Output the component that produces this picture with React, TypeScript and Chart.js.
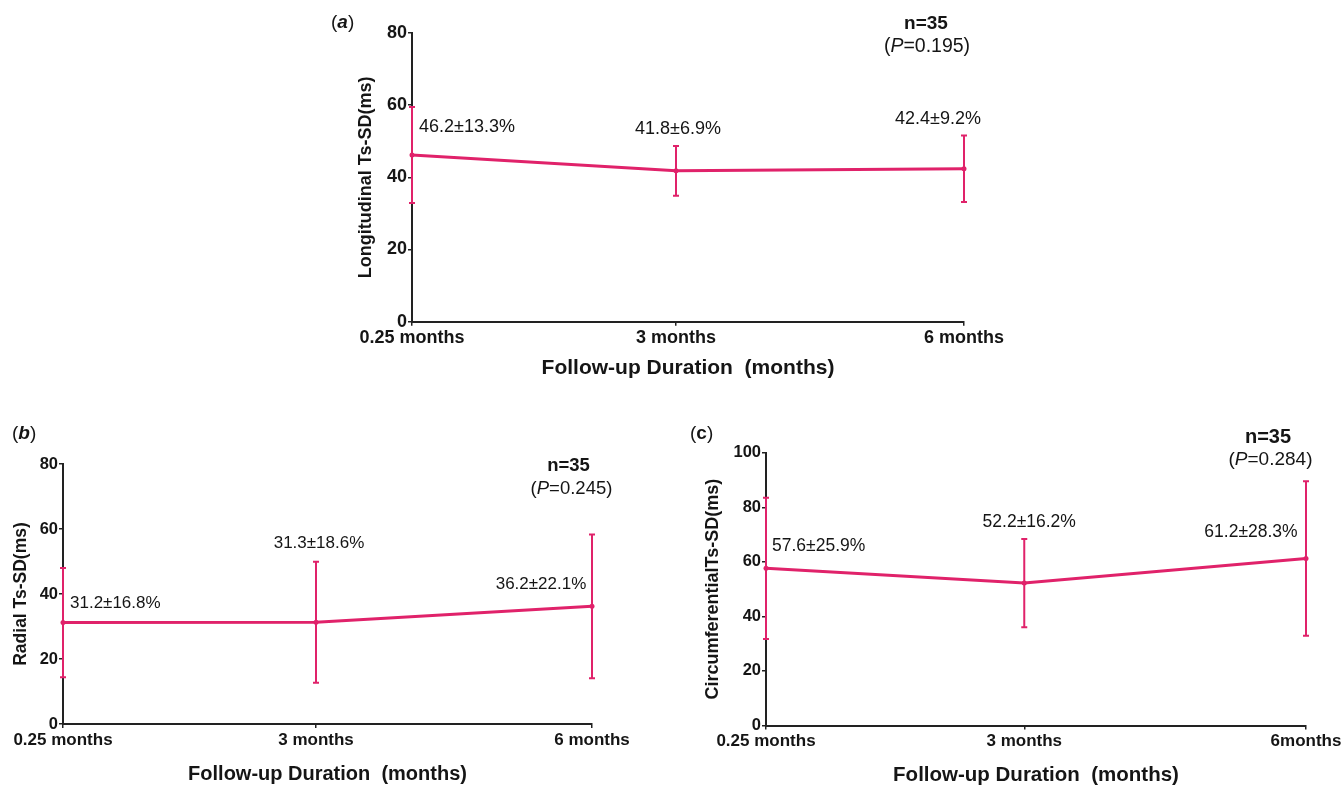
import React, { useEffect, useRef } from "react";
import { Chart, registerables } from "chart.js";

Chart.register(...registerables);

// ---------------- data ----------------
const xValues = [0.25, 3, 6];
const tickLabelsA = ["0.25 months", "3 months", "6 months"];
const tickLabelsB = ["0.25 months", "3 months", "6 months"];
const tickLabelsC = ["0.25 months", "3 months", "6months"];

const meanA = [46.2, 41.8, 42.4];
const sdA = [13.3, 6.9, 9.2];
const meanB = [31.2, 31.3, 36.2];
const sdB = [16.8, 18.6, 22.1];
const meanC = [57.6, 52.2, 61.2];
const sdC = [25.9, 16.2, 28.3];

const nA = 35;
const nB = 35;
const nC = 35;
const pA = "0.195";
const pB = "0.245";
const pC = "0.284";

const yTitleA = "Longitudinal Ts-SD(ms)";
const yTitleB = "Radial Ts-SD(ms)";
const yTitleC = "CircumferentialTs-SD(ms)";
const xTitle = "Follow-up Duration  (months)";

// ---------------- style ----------------
const W = 1341;
const H = 786;
const PINK = "#e0226a";
const INK = "#151515";
const AXIS = "#222222";
const FF = "'Liberation Sans', Arial, Helvetica, sans-serif";

type Off = { dx: number; dy: number; align: CanvasTextAlign };

interface PanelCfg {
  letter: string;
  letterItalic: boolean;
  mean: number[];
  sd: number[];
  ticks: string[];
  n: number;
  p: string;
  yTitle: string;
  yMax: number;
  plot: { left: number; right: number; top: number; bottom: number };
  yW: number;
  xH: number;
  yTitleX: number;
  yTitleSize: number;
  xTitleY: number;
  xTitleSize: number;
  tickXSize: number;
  tickYSize: number;
  valSize: number;
  nSize: number;
  pSize: number;
  letterSize: number;
  valOff: Off[];
  letterPos: { dx: number; dy: number };
  nPos: { dx: number; dy: number };
  pPos: { dx: number; dy: number };
}

const panels: PanelCfg[] = [
  {
    letter: "a",
    letterItalic: true,
    mean: meanA,
    sd: sdA,
    ticks: tickLabelsA,
    n: nA,
    p: pA,
    yTitle: yTitleA,
    yMax: 80,
    plot: { left: 412, right: 964, top: 33, bottom: 321.7 },
    yW: 60,
    xH: 60,
    yTitleX: 366,
    yTitleSize: 18,
    xTitleY: 368,
    xTitleSize: 21,
    tickXSize: 18,
    tickYSize: 18,
    valSize: 18,
    nSize: 19,
    pSize: 19.5,
    letterSize: 19,
    valOff: [
      { dx: 7, dy: -29, align: "left" },
      { dx: 2, dy: -43, align: "center" },
      { dx: -26, dy: -51, align: "center" },
    ],
    letterPos: { dx: -81, dy: -10 },
    nPos: { dx: -38, dy: -10.5 },
    pPos: { dx: -37, dy: 12.7 },
  },
  {
    letter: "b",
    letterItalic: true,
    mean: meanB,
    sd: sdB,
    ticks: tickLabelsB,
    n: nB,
    p: pB,
    yTitle: yTitleB,
    yMax: 80,
    plot: { left: 63, right: 592, top: 464, bottom: 724 },
    yW: 60,
    xH: 60,
    yTitleX: 21,
    yTitleSize: 17.5,
    xTitleY: 774,
    xTitleSize: 20,
    tickXSize: 17,
    tickYSize: 16.5,
    valSize: 17,
    nSize: 18.5,
    pSize: 18.5,
    letterSize: 19,
    valOff: [
      { dx: 7, dy: -20, align: "left" },
      { dx: 3, dy: -80, align: "center" },
      { dx: -51, dy: -23, align: "center" },
    ],
    letterPos: { dx: -51, dy: -30 },
    nPos: { dx: -23.5, dy: 1 },
    pPos: { dx: -20.5, dy: 24 },
  },
  {
    letter: "c",
    letterItalic: false,
    mean: meanC,
    sd: sdC,
    ticks: tickLabelsC,
    n: nC,
    p: pC,
    yTitle: yTitleC,
    yMax: 100,
    plot: { left: 766, right: 1306, top: 452.7, bottom: 725.5 },
    yW: 70,
    xH: 60,
    yTitleX: 713,
    yTitleSize: 18,
    xTitleY: 775,
    xTitleSize: 20.5,
    tickXSize: 17,
    tickYSize: 16.5,
    valSize: 17.5,
    nSize: 20,
    pSize: 19,
    letterSize: 19,
    valOff: [
      { dx: 6, dy: -23.4, align: "left" },
      { dx: 5, dy: -61.6, align: "center" },
      { dx: -55, dy: -27.5, align: "center" },
    ],
    letterPos: { dx: -76, dy: -18.7 },
    nPos: { dx: -38, dy: -16.2 },
    pPos: { dx: -35.5, dy: 6.3 },
  },
];

type Run = { text: string; font: string };

function drawRuns(
  ctx: CanvasRenderingContext2D,
  runs: Run[],
  x: number,
  y: number,
  align: "left" | "center"
) {
  let total = 0;
  const widths = runs.map((r) => {
    ctx.font = r.font;
    const w = ctx.measureText(r.text).width;
    total += w;
    return w;
  });
  let cx = align === "center" ? x - total / 2 : x;
  ctx.textAlign = "left";
  ctx.textBaseline = "middle";
  runs.forEach((r, i) => {
    ctx.font = r.font;
    ctx.fillText(r.text, cx, y);
    cx += widths[i];
  });
}

const annotPlugin = {
  id: "annot",
  afterDatasetsDraw(chart: any, _args: any, opts: any) {
    const cfg: PanelCfg = opts.cfg;
    if (!cfg) return;
    const ctx: CanvasRenderingContext2D = chart.ctx;
    const xs = chart.scales.x;
    const ys = chart.scales.y;
    const area = chart.chartArea;
    ctx.save();
    // error bars
    ctx.strokeStyle = PINK;
    ctx.lineWidth = 2;
    xValues.forEach((xv, i) => {
      const px = xs.getPixelForValue(xv);
      const top = ys.getPixelForValue(cfg.mean[i] + cfg.sd[i]);
      const bot = ys.getPixelForValue(cfg.mean[i] - cfg.sd[i]);
      ctx.beginPath();
      ctx.moveTo(px, top);
      ctx.lineTo(px, bot);
      ctx.moveTo(px - 3, top);
      ctx.lineTo(px + 3, top);
      ctx.moveTo(px - 3, bot);
      ctx.lineTo(px + 3, bot);
      ctx.stroke();
    });
    // value labels
    ctx.fillStyle = INK;
    xValues.forEach((xv, i) => {
      const px = xs.getPixelForValue(xv);
      const py = ys.getPixelForValue(cfg.mean[i]);
      const o = cfg.valOff[i];
      const text = `${cfg.mean[i].toFixed(1)}±${cfg.sd[i].toFixed(1)}%`;
      ctx.font = `${cfg.valSize}px ${FF}`;
      ctx.textAlign = o.align;
      ctx.textBaseline = "middle";
      ctx.fillText(text, px + o.dx, py + o.dy + 1);
    });
    // n and P
    drawRuns(
      ctx,
      [{ text: `n=${cfg.n}`, font: `bold ${cfg.nSize}px ${FF}` }],
      area.right + cfg.nPos.dx,
      area.top + cfg.nPos.dy + 1,
      "center"
    );
    const reg = `${cfg.pSize}px ${FF}`;
    drawRuns(
      ctx,
      [
        { text: "(", font: reg },
        { text: "P", font: `italic ${cfg.pSize}px ${FF}` },
        { text: `=${cfg.p})`, font: reg },
      ],
      area.right + cfg.pPos.dx,
      area.top + cfg.pPos.dy + 1,
      "center"
    );
    // panel letter
    const lreg = `${cfg.letterSize}px ${FF}`;
    drawRuns(
      ctx,
      [
        { text: "(", font: lreg },
        {
          text: cfg.letter,
          font: `${cfg.letterItalic ? "italic " : ""}bold ${cfg.letterSize}px ${FF}`,
        },
        { text: ")", font: lreg },
      ],
      area.left + cfg.letterPos.dx,
      area.top + cfg.letterPos.dy,
      "left"
    );
    ctx.restore();
  },
};

function buildChart(canvas: HTMLCanvasElement, cfg: PanelCfg) {
  const { plot } = cfg;
  const yTitlePad = cfg.yTitleX - (plot.left - cfg.yW) - cfg.yTitleSize / 2;
  const xTitlePad = plot.bottom + cfg.xH - cfg.xTitleY - cfg.xTitleSize / 2;
  const gridCommon = {
    display: true,
    drawOnChartArea: false,
    drawTicks: true,
    tickLength: 4,
    color: AXIS,
    lineWidth: 1.5,
    tickWidth: 1.5,
  };
  return new Chart(canvas, {
    type: "line",
    data: {
      datasets: [
        {
          data: xValues.map((x, i) => ({ x, y: cfg.mean[i] })),
          borderColor: PINK,
          backgroundColor: PINK,
          borderWidth: 3,
          pointRadius: 2.5,
          pointBackgroundColor: PINK,
          pointBorderColor: PINK,
          pointBorderWidth: 0,
          tension: 0,
          clip: false as any,
        },
      ],
    },
    options: {
      responsive: false,
      maintainAspectRatio: false,
      animation: false,
      events: [],
      layout: {
        padding: {
          left: plot.left - cfg.yW,
          top: plot.top,
          right: W - plot.right,
          bottom: H - plot.bottom - cfg.xH,
        },
      },
      plugins: {
        legend: { display: false },
        tooltip: { enabled: false },
        title: { display: false },
        annot: { cfg },
      } as any,
      scales: {
        x: {
          type: "linear",
          min: 0.25,
          max: 6,
          afterBuildTicks: (s: any) => {
            s.ticks = xValues.map((v) => ({ value: v }));
          },
          afterFit: (s: any) => {
            s.height = cfg.xH;
            s.paddingLeft = 0;
            s.paddingRight = 0;
          },
          ticks: {
            autoSkip: false,
            maxRotation: 0,
            minRotation: 0,
            padding: 2,
            color: INK,
            font: { family: FF, size: cfg.tickXSize, weight: "bold" },
            callback: (v: any) => {
              const i = xValues.indexOf(Number(v));
              return i >= 0 ? cfg.ticks[i] : "";
            },
          },
          grid: gridCommon,
          border: { display: true, color: AXIS, width: 2 },
          title: {
            display: true,
            text: xTitle,
            color: INK,
            font: { family: FF, size: cfg.xTitleSize, weight: "bold", lineHeight: 1 },
            padding: { top: 0, bottom: xTitlePad },
          },
        },
        y: {
          type: "linear",
          min: 0,
          max: cfg.yMax,
          afterFit: (s: any) => {
            s.width = cfg.yW;
            s.paddingTop = 0;
            s.paddingBottom = 0;
          },
          ticks: {
            stepSize: 20,
            padding: 1,
            color: INK,
            font: { family: FF, size: cfg.tickYSize, weight: "bold" },
          },
          grid: gridCommon,
          border: { display: true, color: AXIS, width: 2 },
          title: {
            display: true,
            text: cfg.yTitle,
            color: INK,
            font: { family: FF, size: cfg.yTitleSize, weight: "bold", lineHeight: 1 },
            padding: { top: yTitlePad, bottom: 0 },
          },
        },
      },
    },
    plugins: [annotPlugin as any],
  });
}

function Panel({ cfg }: { cfg: PanelCfg }) {
  const ref = useRef<HTMLCanvasElement | null>(null);
  useEffect(() => {
    if (!ref.current) return;
    const chart = buildChart(ref.current, cfg);
    return () => chart.destroy();
  }, [cfg]);
  return (
    <canvas
      ref={ref}
      width={W}
      height={H}
      style={{ position: "absolute", left: 0, top: 0, width: W, height: H }}
    />
  );
}

export default function App() {
  return (
    <div
      style={{
        position: "absolute",
        left: 0,
        top: 0,
        width: W,
        height: H,
        background: "#ffffff",
        overflow: "hidden",
      }}
    >
      {panels.map((p) => (
        <Panel key={p.letter} cfg={p} />
      ))}
    </div>
  );
}
